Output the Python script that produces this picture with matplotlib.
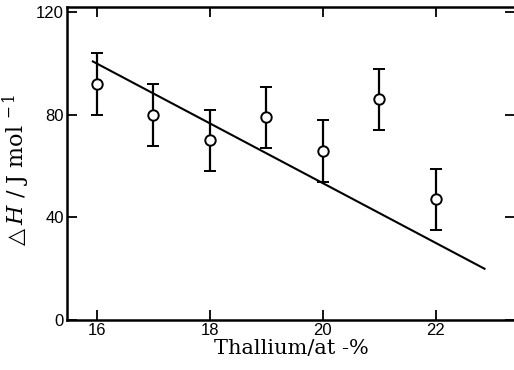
import numpy as np
import matplotlib
matplotlib.use("Agg")
import matplotlib.pyplot as plt

plt.rcParams["mathtext.fontset"] = "dejavuserif"

# Enthalpy vs thallium content, with linear fit
tl_pct = [16, 17, 18, 19, 20, 21, 22]
dH = [92, 80, 70, 79, 66, 86, 47]
dH_err = [12, 12, 12, 12, 12, 12, 12]

fit_x = [15.93, 22.86]
fit_y = [100.8, 20.0]

xticks = [16, 18, 20, 22]
yticks = [0, 40, 80, 120]

fig = plt.figure(figsize=(5.14, 3.70), dpi=100)
ax = fig.add_axes([0.130, 0.135, 0.872, 0.846])

ax.plot(fit_x, fit_y, color="black", lw=1.5)
ax.errorbar(tl_pct, dH, yerr=dH_err, fmt="o", ms=7.5, mfc="white", mec="black",
            mew=1.4, ecolor="black", elinewidth=1.6, capsize=4, capthick=1.6,
            zorder=3)

ax.set_xlim(15.47, 23.4)
ax.set_ylim(0, 122)
ax.set_xticks(xticks)
ax.set_yticks(yticks)
for s in ax.spines.values():
    s.set_linewidth(1.8)

ax.tick_params(direction="in", length=7, width=1.3, top=True, right=True,
               labelsize=12, pad=2)
for lbl in ax.get_xticklabels() + ax.get_yticklabels():
    lbl.set_family("Liberation Sans")

ax.set_xlabel("Thallium/at -%", family="DejaVu Serif", fontsize=15, labelpad=1)
ax.set_ylabel(r"$\triangle H$ / J mol $^{-\,1}$", family="DejaVu Serif",
              fontsize=16)
ax.yaxis.set_label_coords(-0.077, 0.475)

fig.savefig("out.png", dpi=100)
